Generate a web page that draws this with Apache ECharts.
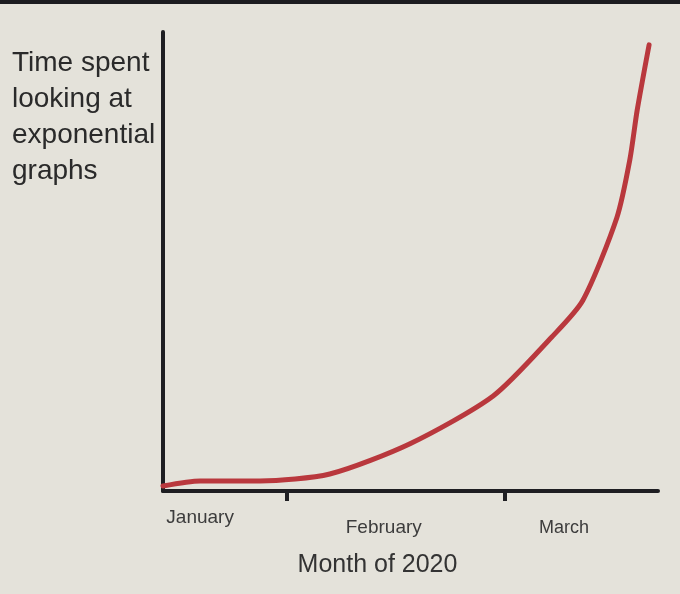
<!DOCTYPE html>
<html>
<head>
<meta charset="utf-8">
<script src="https://cdn.jsdelivr.net/npm/echarts@6/dist/echarts.min.js"></script>
<style>
html, body { margin: 0; padding: 0; background: #e4e2da; }
#chart { width: 680px; height: 590px; border-top: 4px solid #1c1c20; }
</style>
</head>
<body>
<div id="chart"></div>
<script>
// hand drawn curve, x and y both on 0..100
var curveX = [0, 7.5, 19.6, 33.7, 49.9, 66.7, 78.5, 84.8, 91.7, 94.3, 95.8, 98.2];
var curveY = [1.1, 2.2, 2.2, 3.7, 10.3, 20.7, 33.5, 41.5, 59.6, 72.1, 83.0, 97.2];

var monthLabels = ['January', 'February', 'March'];
var monthLabelPos = [7.5, 44.6, 81];
var monthTicks = [25, 69];

var yName = 'Time spent\nlooking at\nexponential\ngraphs';
var xName = 'Month of 2020';

var myChart = echarts.init(document.getElementById('chart'));

var curve = [];
for (var i = 0; i < curveX.length; i++) {
    curve.push([curveX[i], curveY[i]]);
}

var axisColor = '#1e1e22';
var font = 'Liberation Sans, Arial, sans-serif';
var labelColor = '#3c3c3c';

var option = {
    backgroundColor: '#e4e2da',
    animation: false,
    title: { // y axis label, top left
        text: yName,
        left: 7,
        top: 36,
        textStyle: {
            fontFamily: font,
            fontSize: 28,
            fontWeight: 'normal',
            lineHeight: 36,
            color: '#2a2a2a'
        }
    },
    grid: {
        left: 163,
        right: 22,
        top: 28,
        bottom: 103
    },
    xAxis: {
        type: 'value',
        min: 0,
        max: 100,
        name: xName,
        nameLocation: 'middle',
        nameGap: 62,
        nameTextStyle: {
            fontFamily: font,
            fontSize: 25,
            color: '#333',
            padding: [0, 66, 0, 0]
        },
        axisLine: {
            show: true,
            lineStyle: { color: axisColor, width: 4 }
        },
        axisTick: {
            show: true,
            customValues: monthTicks,
            length: 10,
            lineStyle: { color: axisColor, width: 4 }
        },
        axisLabel: {
            customValues: monthLabelPos,
            margin: 17,
            fontFamily: font,
            fontSize: 19,
            color: labelColor,
            formatter: function (value) {
                var k = monthLabelPos.indexOf(value);
                var key = ['a', 'b', 'c'][k];
                return '{' + key + '|' + monthLabels[k] + '}';
            },
            rich: {
                a: { fontFamily: font, fontSize: 19, color: labelColor, padding: [0, 0, 0, 0] },
                b: { fontFamily: font, fontSize: 19, color: labelColor, padding: [10, 0, 0, 0] },
                c: { fontFamily: font, fontSize: 18, color: labelColor, padding: [11, 0, 0, 0] }
            }
        },
        splitLine: { show: false }
    },
    yAxis: {
        type: 'value',
        min: 0,
        max: 100,
        axisLine: {
            show: true,
            lineStyle: { color: axisColor, width: 4 }
        },
        axisTick: { show: false },
        axisLabel: { show: false },
        splitLine: { show: false }
    },
    series: [{
        type: 'line',
        data: curve,
        smooth: 0.25,
        symbol: 'none',
        lineStyle: {
            color: '#b9383d',
            width: 5,
            cap: 'round'
        },
        z: 3
    }]
};

myChart.setOption(option);
</script>
</body>
</html>
